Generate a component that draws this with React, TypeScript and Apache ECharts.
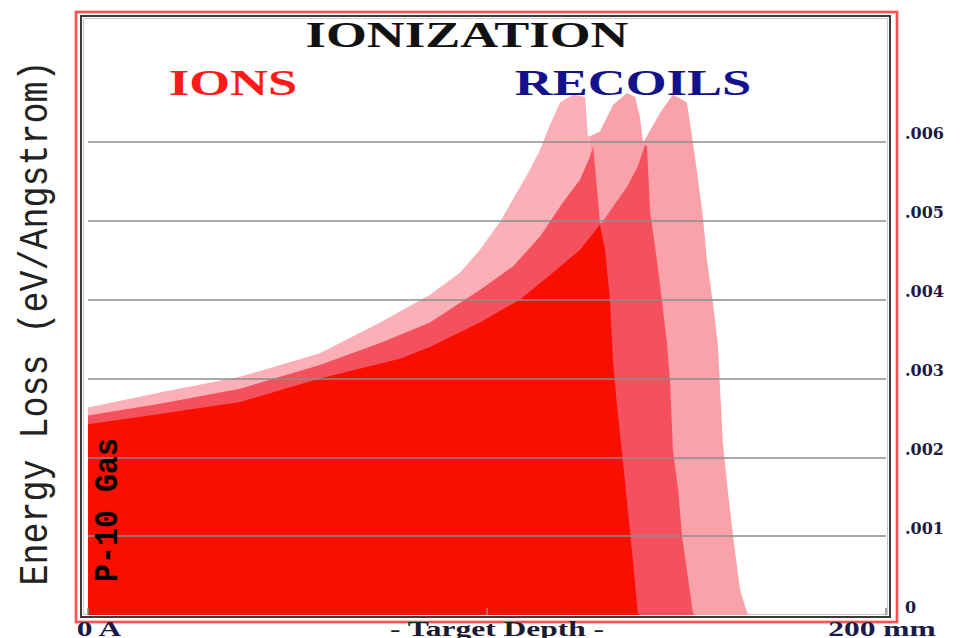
import React, { useEffect, useRef } from "react";
import * as echarts from "echarts";

// Target depth (mm) and energy loss (eV/Angstrom) for each shaded layer
const lightADepth = [0, 18.0, 38.1, 58.1, 73.2, 85.7, 93.2, 98.2, 103.3, 107.5, 110.8, 113.3, 115.8, 118.3, 121.6, 124.6, 125.3, 125.8];
const lightAValue = [0.00263, 0.00282, 0.00302, 0.00332, 0.00371, 0.00406, 0.00434, 0.00463, 0.00499, 0.00536, 0.00565, 0.0059, 0.00622, 0.0065, 0.0066, 0.00657, 0.00607, 0.00607];

const lightBDepth = [125.8, 128.3, 131.6, 135.1, 137.1, 138.3, 139.1, 139.6, 143.4, 146.6, 150.1, 151.6, 152.9, 154.1, 155.1, 156.6, 157.9, 159.1, 160.4, 161.7, 163.4, 165.2, 165.9];
const lightBValue = [0.00607, 0.00613, 0.00647, 0.00662, 0.00657, 0.00632, 0.006, 0.00603, 0.00637, 0.0066, 0.0065, 0.00599, 0.00552, 0.00505, 0.00451, 0.00396, 0.0034, 0.00218, 0.00155, 0.00099, 0.00032, 0.00003, 0];

const mediumDepth = [0, 18.0, 38.1, 58.1, 73.2, 85.7, 98.2, 106.5, 113.3, 119.0, 123.3, 125.8, 126.6, 127.6, 128.3, 128.8, 131.6, 135.1, 137.8, 139.6, 140.1, 140.9, 142.4, 143.9, 145.1, 145.9, 146.6, 147.9, 148.9, 150.1, 151.6, 152.1];
const mediumValue = [0.00253, 0.00268, 0.00287, 0.00317, 0.00345, 0.00371, 0.00412, 0.00442, 0.0048, 0.00523, 0.00552, 0.00581, 0.00594, 0.00539, 0.00497, 0.00497, 0.00518, 0.00543, 0.00569, 0.00596, 0.00594, 0.0051, 0.00457, 0.00396, 0.00345, 0.00294, 0.00209, 0.00159, 0.00099, 0.00057, 0.00003, 0];

const ionDepth = [0, 18.0, 38.1, 58.1, 78.2, 85.7, 98.2, 108.3, 116.5, 123.3, 128.3, 129.6, 130.8, 131.6, 132.5, 133.3, 134.1, 135.8, 137.1, 137.8, 138.3];
const ionValue = [0.00242, 0.00255, 0.0027, 0.003, 0.00325, 0.0034, 0.00371, 0.004, 0.00434, 0.00463, 0.00495, 0.00463, 0.004, 0.0032, 0.0027, 0.00231, 0.00193, 0.00108, 0.00041, 0.00003, 0];

const yTicks = [0, 0.001, 0.002, 0.003, 0.004, 0.005, 0.006];

const zip = (xs: number[], ys: number[]) => xs.map((x, i) => [x, ys[i]]);

const areaSeries = (name: string, xs: number[], ys: number[], color: string) => ({
  name,
  type: "line",
  data: zip(xs, ys),
  symbol: "none",
  lineStyle: { width: 0 },
  areaStyle: { color, opacity: 1 },
  silent: true,
});

export default function App() {
  const ref = useRef<HTMLDivElement>(null);
  useEffect(() => {
    document.body.style.margin = "0";
    const chart = echarts.init(ref.current!, null, { renderer: "svg" });
    const serifBold = '"Liberation Serif", "Times New Roman", serif';
    const mono = '"Liberation Mono", "DejaVu Sans Mono", monospace';
    const txt = (text: string, x: number, y: number, size: number, color: string, extra: any = {}) => ({
      type: "text",
      x,
      y,
      scaleX: extra.scaleX ?? 1.5,
      scaleY: extra.scaleY ?? 1,
      rotation: extra.rotation ?? 0,
      z: 10,
      style: {
        text,
        fill: color,
        fontSize: size,
        fontWeight: extra.weight ?? "bold",
        fontFamily: extra.family ?? serifBold,
        align: "center",
        verticalAlign: "middle",
        textAlign: "center",
        textVerticalAlign: "middle",
      },
    });
    chart.setOption({
      animation: false,
      grid: { left: 88, right: 78, top: 63, bottom: 23, containLabel: false, outerBoundsMode: "none" },
      xAxis: {
        type: "value",
        min: 0,
        max: 200,
        interval: 100,
        axisLine: { show: false },
        axisLabel: { show: false },
        splitLine: { show: false },
        axisTick: { show: true, inside: true, length: 7, lineStyle: { color: "#8a8a8a", width: 1.5 } },
        z: 5,
      },
      yAxis: {
        type: "value",
        position: "right",
        min: 0,
        max: 0.007,
        interval: 0.001,
        z: 5,
        axisLine: { show: false },
        axisTick: { show: false },
        splitLine: {
          show: true,
          showMinLine: false,
          showMaxLine: false,
          lineStyle: { color: "#8c8c8c", width: 1.5 },
        },
        axisLabel: {
          showMaxLabel: false,
          margin: 19,
          fontFamily: '"DejaVu Serif", serif',
          fontWeight: "bold",
          fontSize: 16,
          color: "#1c1c40",
          verticalAlign: "bottom",
          formatter: (v: number) => {
            const t = yTicks.find((k) => Math.abs(k - v) < 1e-9);
            if (t === undefined) return "";
            return t === 0 ? "0" : "." + t.toFixed(3).split(".")[1];
          },
        },
      },
      series: [
        areaSeries("Layer light A", lightADepth, lightAValue, "#fbb0b7"),
        areaSeries("Layer light B", lightBDepth, lightBValue, "#f9a2aa"),
        areaSeries("Layer medium", mediumDepth, mediumValue, "#f5505e"),
        areaSeries("IONS", ionDepth, ionValue, "#f80f00"),
      ],
      graphic: [
        { type: "rect", z: 1, shape: { x: 76, y: 12, width: 821, height: 610 }, style: { fill: "none", stroke: "#ffc4c4", lineWidth: 4 } },
        { type: "rect", z: 2, shape: { x: 76, y: 12, width: 821, height: 610 }, style: { fill: "none", stroke: "#ff2a2a", lineWidth: 1.5 } },
        { type: "rect", z: 2, shape: { x: 81, y: 16, width: 809, height: 601 }, style: { fill: "none", stroke: "#3a3a3a", lineWidth: 2 } },
        { type: "rect", z: 2, shape: { x: 83.5, y: 18.5, width: 804, height: 596 }, style: { fill: "none", stroke: "#c8c8c8", lineWidth: 1 } },
        txt("IONIZATION", 467, 35, 35, "#111111"),
        txt("IONS", 233, 83, 35, "#ff1a1a"),
        txt("RECOILS", 633, 83, 35, "#12128c"),
        txt("0 A", 99, 629, 21, "#1a1a48"),
        txt("- Target Depth -", 497, 629, 21, "#1a1a30"),
        txt("200 mm", 882, 629, 21, "#1a1a48"),
        txt("Energy Loss (eV/Angstrom)", 36, 323, 35, "#222222", { rotation: Math.PI / 2, scaleX: 1, scaleY: 1.15, weight: "normal", family: mono }),
        txt("P-10 Gas", 108, 510, 30, "#000000", { rotation: Math.PI / 2, scaleX: 1, scaleY: 1.1, weight: "bold", family: mono }),
      ],
    });
    return () => chart.dispose();
  }, []);
  return <div ref={ref} style={{ width: 964, height: 638 }} />;
}
